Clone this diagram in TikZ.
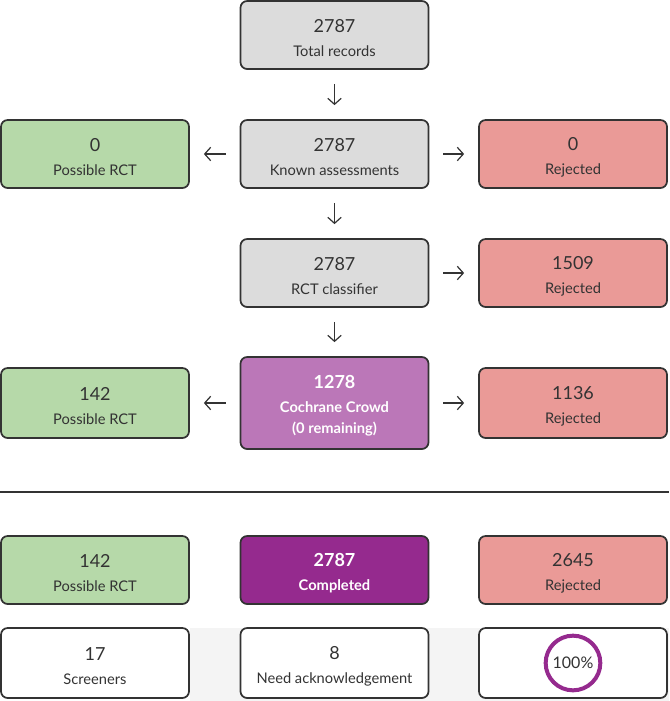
\documentclass[tikz,border=0pt]{standalone}
\usepackage{fontspec}
\setmainfont{Lato}
\usetikzlibrary{arrows.meta}

\definecolor{boxline}{HTML}{333333}
\definecolor{txt}{HTML}{333333}
\definecolor{grayfill}{HTML}{DCDCDC}
\definecolor{greenfill}{HTML}{B6D9A9}
\definecolor{redfill}{HTML}{EA9A97}
\definecolor{crowdfill}{HTML}{BB77B8}
\definecolor{donefill}{HTML}{952A8E}
\definecolor{stripfill}{HTML}{F4F4F4}

\newcommand{\numtxt}[2]{{\fontsize{13.5}{16}\selectfont\rule{0pt}{14pt}#1}\\[4pt]#2}

\begin{document}
\begin{tikzpicture}[
    x=0.75pt, y=-0.75pt,
    box/.style={draw=boxline, line width=1.3pt, rounded corners=5pt, minimum width=141pt, minimum height=51pt, align=center, text=txt, inner sep=0pt, font=\fontsize{11}{14}\selectfont},
    grey/.style={box, fill=grayfill},
    good/.style={box, fill=greenfill},
    bad/.style={box, fill=redfill},
    crowd/.style={box, fill=crowdfill, text=white, minimum height=69pt, font=\fontsize{11}{14}\selectfont\bfseries},
    done/.style={box, fill=donefill, text=white, font=\fontsize{11}{14}\selectfont\bfseries},
    plain/.style={box, fill=white, minimum height=52.5pt},
    arr/.style={-{Straight Barb[length=4.5pt, width=10pt]}, line width=0.9pt, draw=txt, shorten >=10.5pt, shorten <=10.5pt},
]
\useasboundingbox (0,0) rectangle (669,701);

% light strip behind the bottom row
\fill[stripfill] (190,628) rectangle (669,701);

% Flow
\node[grey] (total) at (334.5,35) {\numtxt{2787}{Total records}};
\node[grey] (known) at (334.5,154) {\numtxt{2787}{Known assessments}};
\node[good] (knownrct) at (95,154) {\numtxt{0}{Possible RCT}};
\node[bad] (knownrej) at (573,154) {\numtxt{0}{Rejected}};
\node[grey] (classif) at (334.5,273) {\numtxt{2787}{RCT classifier}};
\node[bad] (classrej) at (573,273) {\numtxt{1509}{Rejected}};
\node[crowd] (crowd) at (334.5,403) {\numtxt{1278}{Cochrane Crowd\\[2pt](0 remaining)}};
\node[good, minimum height=52.5pt] (crowdrct) at (95,403) {\numtxt{142}{Possible RCT}};
\node[bad, minimum height=52.5pt] (crowdrej) at (573,403) {\numtxt{1136}{Rejected}};

% Edges
\draw[arr] (total) -- (known);
\draw[arr] (known) -- (classif);
\draw[arr] (classif) -- (crowd);
\draw[arr] (known) -- (knownrct);
\draw[arr] (known) -- (knownrej);
\draw[arr] (classif) -- (classrej);
\draw[arr] (crowd) -- (crowdrct);
\draw[arr] (crowd) -- (crowdrej);

% Separator
\coordinate (sepl) at (0,492);
\coordinate (sepr) at (669,492);
\draw[boxline, line width=1.5pt] (sepl) -- (sepr);

% Totals
\node[good] (allrct) at (95,570) {\numtxt{142}{Possible RCT}};
\node[done] (alldone) at (334.5,570) {\numtxt{2787}{Completed}};
\node[bad] (allrej) at (573,570) {\numtxt{2645}{Rejected}};

% Stats
\node[plain] (screeners) at (95,663) {\numtxt{17}{Screeners}};
\node[plain] (ack) at (334.5,663) {\numtxt{8}{Need acknowledgement}};
\node[plain] (progress) at (573,663) {};
\node[circle, draw=donefill, line width=3pt, minimum size=41pt, inner sep=0pt, text=txt, font=\fontsize{12}{14}\selectfont] (ring) at (progress) {100\%};

\end{tikzpicture}
\end{document}
